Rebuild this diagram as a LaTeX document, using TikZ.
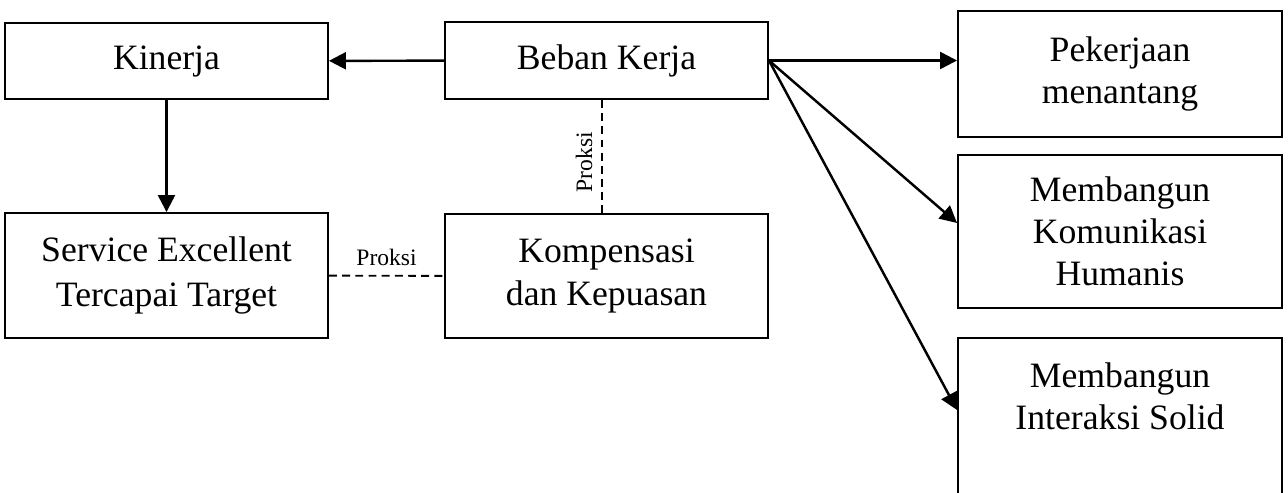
\documentclass[tikz,border=0pt]{standalone}
\usepackage{fontspec}
\setmainfont{Liberation Serif}
\usetikzlibrary{arrows.meta, math}

\begin{document}
\begin{tikzpicture}[
  box/.style={draw, line width=1.1pt, inner sep=0pt, align=center,
    font=\fontsize{20.3}{24}\selectfont},
  pfeil/.style={-{Triangle[length=0.34cm,width=0.34cm]}, line width=1.4pt},
  proksi/.style={line width=1.1pt, dash pattern=on 4.5pt off 3pt},
  lbl/.style={font=\fontsize{13.4}{16}\selectfont, inner sep=2pt}
]
\tikzmath{
\W=6.46;
\Wr=6.48;
\xl=3.33;
\xm=12.13;
\xr=22.40;
}
\useasboundingbox (0,0) rectangle (25.76,-9.84);

%left and middle boxes
\node[box, minimum width=\W cm, minimum height=1.52cm] (kinerja) at (\xl,-1.22) {Kinerja};
\node[box, minimum width=\W cm, minimum height=1.54cm] (beban) at (\xm,-1.21) {Beban Kerja};
\node[box, minimum width=\W cm, minimum height=2.50cm] (service) at (\xl,-5.51) {Service Excellent\\[2pt]Tercapai Target};
\node[box, minimum width=\W cm, minimum height=2.48cm] (kompensasi) at (\xm,-5.52) {Kompensasi\\dan Kepuasan};

%right boxes
\node[box, minimum width=\Wr cm, minimum height=2.52cm] (pekerjaan) at (\xr,-1.48) {Pekerjaan\\menantang};
\node[box, minimum width=\Wr cm, minimum height=3.06cm] (komunikasi) at (\xr,-4.63) {Membangun\\Komunikasi\\Humanis};
\node[box, minimum width=\Wr cm, minimum height=3.16cm] (interaksi) at (\xr,-8.34) {Membangun\\Interaksi Solid\\~};

%arrows
\draw[pfeil] (beban) -- (kinerja);
\draw[pfeil] (kinerja) -- (service);
\draw[pfeil] (beban.east) -- (beban.east -| pekerjaan.west);
\draw[pfeil] (beban.east) -- ([yshift=0.17cm]komunikasi.west);
\draw[pfeil] (beban.east) -- ([yshift=0.14cm]interaksi.west);

%proksi
\draw[proksi] ([xshift=-0.09cm]beban.south) -- ([xshift=-0.09cm]kompensasi.north)
  node[lbl, pos=0.55, rotate=90, anchor=south, inner sep=5pt] {Proksi};
\draw[proksi] (service) -- (kompensasi) node[lbl, midway, above=3pt] {Proksi};

\end{tikzpicture}
\end{document}
